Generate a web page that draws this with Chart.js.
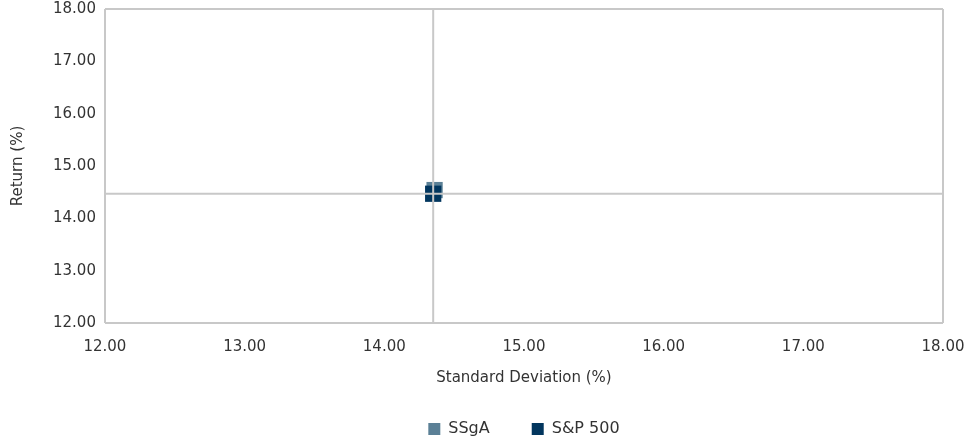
<!DOCTYPE html>
<html>
<head>
<meta charset="utf-8">
<script src="https://cdn.jsdelivr.net/npm/chart.js@4"></script>
<style>
  html, body { margin: 0; padding: 0; background: #ffffff; }
  #wrap { width: 970px; height: 438px; }
</style>
</head>
<body>
<div id="wrap"><canvas id="c" width="970" height="438"></canvas></div>
<script>
// Data
const seriesNames = ["SSgA", "S&P 500"];
const stdDev = [14.36, 14.35];      // x: Standard Deviation (%)
const returns = [14.54, 14.47];     // y: Return (%)
const xRange = [12, 18];
const yRange = [12, 18];
const tickStep = 1;

const colors = ["#5b8096", "#02365e"];
const lineGray = "#c8c8c8";
const textColor = "#333333";
const fontFamily = "'DejaVu Sans', sans-serif";
const fontSize = 15;

// crosshair through the benchmark (S&P 500)
const benchX = stdDev[1];
const benchY = returns[1];

const datasets = [
  {
    label: "hline",
    data: [{ x: xRange[0], y: benchY }, { x: xRange[1], y: benchY }],
    showLine: true, borderColor: lineGray, borderWidth: 2, pointRadius: 0,
    order: 0
  },
  {
    label: "vline",
    data: [{ x: benchX, y: yRange[0] }, { x: benchX, y: yRange[1] }],
    showLine: true, borderColor: lineGray, borderWidth: 2, pointRadius: 0,
    order: 0
  },
  {
    label: seriesNames[1],
    data: [{ x: stdDev[1], y: returns[1] }],
    backgroundColor: colors[1], borderColor: colors[1], borderWidth: 0,
    pointStyle: "rect", pointRadius: 11.5, pointHoverRadius: 11.5,
    order: 1
  },
  {
    label: seriesNames[0],
    data: [{ x: stdDev[0], y: returns[0] }],
    backgroundColor: colors[0], borderColor: colors[0], borderWidth: 0,
    pointStyle: "rect", pointRadius: 11.5, pointHoverRadius: 11.5,
    order: 2
  }
];

function edgeGrid(ctx) {
  const n = ctx.scale.ticks.length;
  return (ctx.index === 0 || ctx.index === n - 1) ? lineGray : "rgba(0,0,0,0)";
}

// center the legend under the plot area, as in the reference
const legendUnderPlot = {
  id: "legendUnderPlot",
  afterLayout(chart) {
    const lg = chart.legend;
    if (lg) {
      lg.left = chart.chartArea.left;
      lg.right = chart.chartArea.right;
      lg.width = lg.right - lg.left;
      if (lg.adjustHitBoxes) lg.adjustHitBoxes();
    }
  }
};

new Chart(document.getElementById("c"), {
  type: "scatter",
  data: { datasets },
  plugins: [legendUnderPlot],
  options: {
    responsive: false,
    animation: false,
    layout: { autoPadding: false, padding: { top: 1, right: 27, left: 9, bottom: -9 } },
    plugins: {
      tooltip: { enabled: false },
      legend: {
        position: "bottom",
        reverse: true,
        labels: {
          filter: (item) => seriesNames.includes(item.text),
          boxWidth: 12, boxHeight: 12,
          padding: 42,
          color: textColor,
          font: { family: fontFamily, size: 16 }
        }
      }
    },
    scales: {
      x: {
        type: "linear", min: xRange[0], max: xRange[1],
        ticks: {
          stepSize: tickStep, color: textColor, padding: 0,
          font: { family: fontFamily, size: fontSize },
          callback: (v) => Number(v).toFixed(2)
        },
        grid: { color: edgeGrid, lineWidth: 2, drawTicks: true, tickLength: 15, tickColor: "rgba(0,0,0,0)" },
        border: { display: false },
        title: {
          display: true, text: "Standard Deviation (%)", color: textColor,
          font: { family: fontFamily, size: fontSize }, padding: { top: 13, bottom: -8 }
        }
      },
      y: {
        type: "linear", min: yRange[0], max: yRange[1],
        ticks: {
          stepSize: tickStep, color: textColor, padding: 0,
          font: { family: fontFamily, size: fontSize },
          callback: (v) => Number(v).toFixed(2)
        },
        grid: { color: edgeGrid, lineWidth: 2, drawTicks: true, tickLength: 9, tickColor: "rgba(0,0,0,0)" },
        border: { display: false },
        title: {
          display: true, text: "Return (%)", color: textColor,
          font: { family: fontFamily, size: fontSize }, padding: { top: 0, bottom: 26 }
        }
      }
    }
  }
});
</script>
</body>
</html>
